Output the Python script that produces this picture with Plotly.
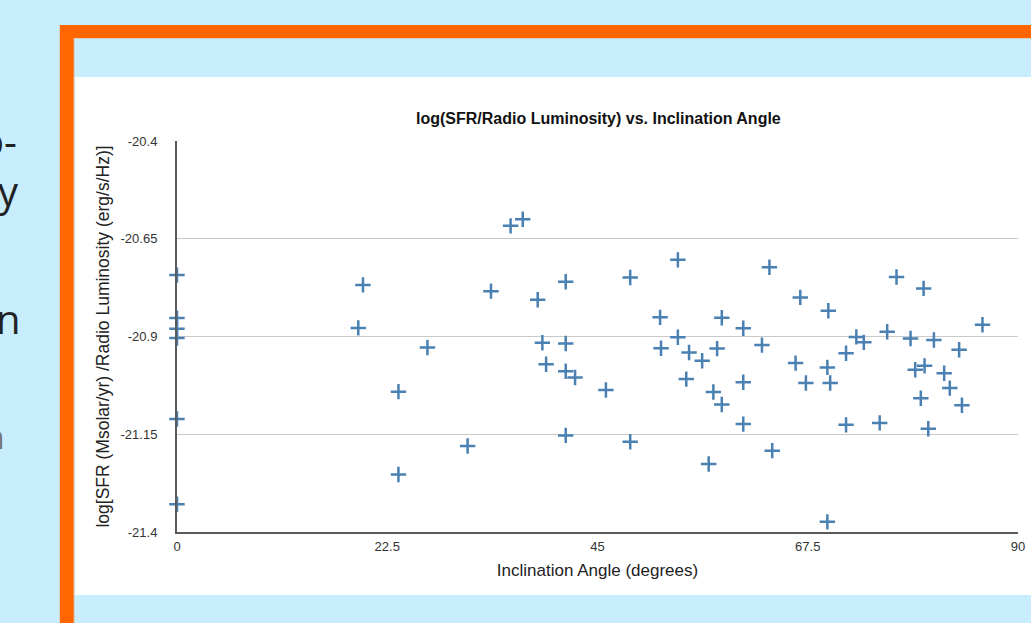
import plotly.graph_objects as go

# Inclination angle (degrees) and log(SFR / radio luminosity) per galaxy
inclination = [
    0, 0, 0, 0, 0, 0,
    19.4, 19.9, 23.7, 23.7, 26.8, 31.1, 33.6, 35.7, 37.0, 38.6,
    39.1, 39.5, 41.6, 41.6, 41.6, 42.6, 41.6, 45.9, 48.5, 48.5,
    51.7, 51.8, 53.6, 53.6, 54.5, 54.8, 56.2, 56.9, 57.4, 57.8,
    58.3, 58.3, 60.6, 60.6, 60.6, 62.6, 63.4, 63.7, 66.2, 66.7,
    67.3, 69.6, 69.7, 69.9, 69.6, 71.6, 71.6, 72.7, 73.5, 75.2,
    76.0, 77.0, 78.5, 79.0, 79.6, 79.9, 80.0, 80.4, 81.0, 82.1,
    82.7, 83.7, 84.0, 86.2,
]
log_sfr_radio = [
    -20.743, -20.853, -20.880, -20.904, -21.111, -21.329,
    -20.878, -20.768, -21.041, -21.253, -20.928, -21.180, -20.784, -20.617, -20.600, -20.806,
    -20.916, -20.971, -20.760, -20.918, -20.989, -21.005, -21.153, -21.037, -20.749, -21.169,
    -20.851, -20.930, -20.704, -20.902, -21.009, -20.941, -20.962, -21.226, -21.042, -20.931,
    -20.852, -21.074, -20.879, -21.017, -21.124, -20.922, -20.723, -21.192, -20.968, -20.800,
    -21.019, -20.979, -20.834, -21.019, -21.374, -20.943, -21.126, -20.901, -20.915, -21.121,
    -20.888, -20.748, -20.905, -20.985, -21.058, -20.777, -20.975, -21.136, -20.909, -20.994,
    -21.032, -20.934, -21.076, -20.870,
]

x_ticks = [0, 22.5, 45, 67.5, 90]
x_tick_text = ["0", "22.5", "45", "67.5", "90"]
y_ticks = [-20.4, -20.65, -20.9, -21.15, -21.4]
y_tick_text = ["-20.4", "-20.65", "-20.9", "-21.15", "-21.4"]

W, H = 1031, 623
L, R, T, B = 177, 1025, 141, 532  # plot area in pixels


def px(X):
    return (X - L) / (R - L)


def py(Y):
    return (B - Y) / (B - T)


BLUE_BG = "#c8edfc"
ORANGE = "#ff6600"
FONT = "Liberation Sans, Arial, sans-serif"

fig = go.Figure()
fig.add_trace(go.Scatter(
    x=inclination, y=log_sfr_radio, mode="markers",
    marker=dict(symbol="cross-thin", size=11, color="#4a80b2",
                line=dict(width=2.5, color="#4a80b2")),
    cliponaxis=False, hoverinfo="x+y", showlegend=False,
))

shapes = [
    # orange frame (left and top bars)
    dict(type="rect", x0=px(59), x1=px(1045), y0=py(25), y1=py(640),
         fillcolor=ORANGE, line=dict(width=0)),
    # pale inner panel
    dict(type="rect", x0=px(73), x1=px(1045), y0=py(38), y1=py(640),
         fillcolor=BLUE_BG, line=dict(width=0)),
    # white chart card
    dict(type="rect", x0=px(73), x1=px(1045), y0=py(77), y1=py(595),
         fillcolor="white", line=dict(width=0)),
    # faint edge lines along the frame
    dict(type="line", x0=px(73.5), x1=px(73.5), y0=py(38), y1=py(640),
         line=dict(color="#d6d0c8", width=1)),
    dict(type="line", x0=px(73), x1=px(1045), y0=py(38.5), y1=py(38.5),
         line=dict(color="#d6d0c8", width=1)),
    dict(type="line", x0=px(58.5), x1=px(58.5), y0=py(25), y1=py(640),
         line=dict(color="#d8d2c8", width=1)),
]
for s in shapes:
    s.update(xref="paper", yref="paper", layer="below")

# slide text running off the left edge
side_text = [
    ("o-", 18, 140, "#222222", 40),
    ("y", 20, 190, "#222222", 40),
    ("n", 22, 318, "#222222", 40),
    ("n", 6, 436, "#777777", 32),
]
annotations = [
    dict(text=t, x=px(xr), y=py(yc), xref="paper", yref="paper",
         xanchor="right", yanchor="middle", showarrow=False,
         font=dict(family="Open Sans, sans-serif", size=fs, color=c))
    for t, xr, yc, c, fs in side_text
]
annotations.append(dict(
    text="<b>log(SFR/Radio Luminosity) vs. Inclination Angle</b>",
    x=px(602), y=py(118), xref="paper", yref="paper",
    xanchor="center", yanchor="middle", showarrow=False,
    font=dict(family=FONT, size=16, color="#111111"),
))

fig.update_layout(
    width=W, height=H,
    margin=dict(l=L, r=W - R, t=T, b=H - B, pad=0),
    paper_bgcolor=BLUE_BG, plot_bgcolor="rgba(0,0,0,0)",
    shapes=shapes, annotations=annotations,
    font=dict(family=FONT, color="#333333"),
    xaxis=dict(
        range=[0, 90], tickvals=x_ticks, ticktext=x_tick_text,
        showgrid=False, zeroline=False, showline=True,
        linecolor="#5a5a5a", linewidth=2,
        ticks="outside", ticklen=1, tickcolor="rgba(0,0,0,0)",
        ticklabeloverflow="allow",
        tickfont=dict(size=13, color="#333333"),
        title=dict(text="Inclination Angle (degrees)", standoff=12,
                   font=dict(size=17, color="#222222")),
    ),
    yaxis=dict(
        range=[-21.4, -20.4], tickvals=y_ticks, ticktext=y_tick_text,
        showgrid=True, gridcolor="#c9c9c9", gridwidth=1,
        zeroline=False, showline=True, linecolor="#5a5a5a", linewidth=2,
        ticks="outside", ticklen=15, tickcolor="rgba(0,0,0,0)",
        tickfont=dict(size=13, color="#333333"),
        title=dict(text="log[SFR (Msolar/yr) /Radio Luminosity (erg/s/Hz)]",
                   standoff=6, font=dict(size=17.5, color="#222222")),
    ),
)

fig.write_html("out.html")
